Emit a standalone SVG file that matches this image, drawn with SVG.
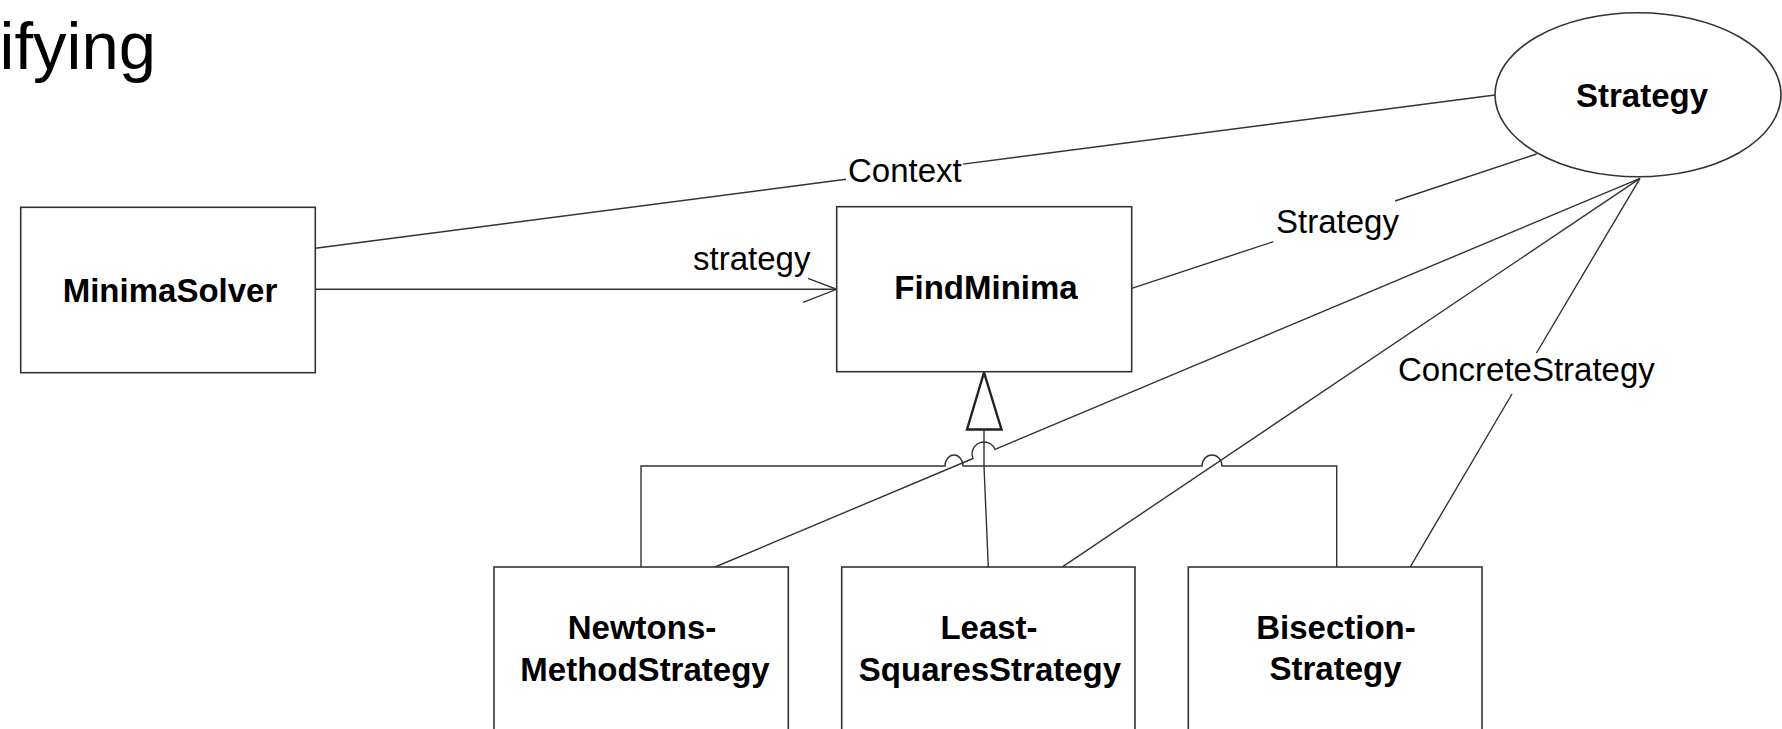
<svg xmlns="http://www.w3.org/2000/svg" width="1782" height="729" viewBox="0 0 1782 729">
  <style>
    .box { fill: #ffffff; stroke: #333333; stroke-width: 1.6; }
    .edge { fill: none; stroke: #333333; stroke-width: 1.4; }
    .gen { fill: #ffffff; stroke: #222222; stroke-width: 2.4; stroke-linejoin: miter; }
    .name { font-family: "Liberation Sans", Arial, sans-serif; font-size: 33px; font-weight: bold; fill: #000000; text-anchor: middle; }
    .role { font-family: "Liberation Sans", Arial, sans-serif; font-size: 33px; fill: #000000; }
    .title { font-family: "Liberation Sans", Arial, sans-serif; font-size: 67px; fill: #000000; text-anchor: end; }
  </style>

  <rect width="1782" height="729" fill="#ffffff"/>

  <text class="title" x="156" y="69">ifying</text>

  <!-- connectors -->
  <g id="connectors">
    <!-- Context role: MinimaSolver to Strategy, broken for its label -->
    <path class="edge" d="M315.3,248.3 L846,179.3 M963,164.1 L1495,95"/>
    <!-- strategy reference with open arrowhead -->
    <path class="edge" d="M315.3,289.3 L836.7,289.3"/>
    <path class="edge" d="M808,278.3 L836.7,289.3 L803,302.3"/>
    <!-- Strategy role: FindMinima to Strategy -->
    <path class="edge" d="M1131.7,288.3 L1273.3,241.7 M1395,201 L1536.7,154"/>
    <!-- ConcreteStrategy roles -->
    <path class="edge" d="M715,567 L973,458.5 A11.5 11.5 0 0 1 995,449.3 L1640,178.3"/>
    <path class="edge" d="M1061.7,567.3 L1640,178.3"/>
    <path class="edge" d="M1640,178.3 L1536.5,353 M1512,394 L1410,567.3"/>
    <!-- generalization tree -->
    <path class="edge" d="M641,567.3 L641,466 H945 A9 11 0 0 1 963,466 H1202 A10 11 0 0 1 1222,466 H1336.7 V567.3"/>
    <path class="edge" d="M984,429.5 L984,466 L988.3,567.3" stroke-width="1.7"/>
    <polygon class="gen" points="984,372.5 967,429.5 1001.5,429.5"/>
  </g>

  <g id="MinimaSolver">
    <rect class="box" x="20.7" y="207.3" width="294.6" height="165.4"/>
    <text class="name" x="170" y="301.5">MinimaSolver</text>
  </g>

  <g id="FindMinima">
    <rect class="box" x="836.7" y="206.7" width="295" height="165"/>
    <text class="name" x="986" y="298.5">FindMinima</text>
  </g>

  <g id="Strategy">
    <ellipse class="box" cx="1638" cy="94.7" rx="143" ry="82"/>
    <text class="name" x="1642" y="106.7">Strategy</text>
  </g>

  <g id="NewtonsMethodStrategy">
    <rect class="box" x="494" y="567" width="294.3" height="200"/>
    <text class="name" x="642" y="639">Newtons-</text>
    <text class="name" x="645" y="681">MethodStrategy</text>
  </g>

  <g id="LeastSquaresStrategy">
    <rect class="box" x="841.7" y="567" width="293.3" height="200"/>
    <text class="name" x="989" y="639">Least-</text>
    <text class="name" x="990" y="681">SquaresStrategy</text>
  </g>

  <g id="BisectionStrategy">
    <rect class="box" x="1188.3" y="567" width="293.7" height="200"/>
    <text class="name" x="1336" y="639">Bisection-</text>
    <text class="name" x="1335.5" y="680">Strategy</text>
  </g>

  <g id="labels">
    <text class="role" x="848" y="181.7">Context</text>
    <text class="role" x="693" y="270">strategy</text>
    <text class="role" x="1276" y="233.3">Strategy</text>
    <text class="role" x="1398" y="380.7">ConcreteStrategy</text>
  </g>
</svg>
